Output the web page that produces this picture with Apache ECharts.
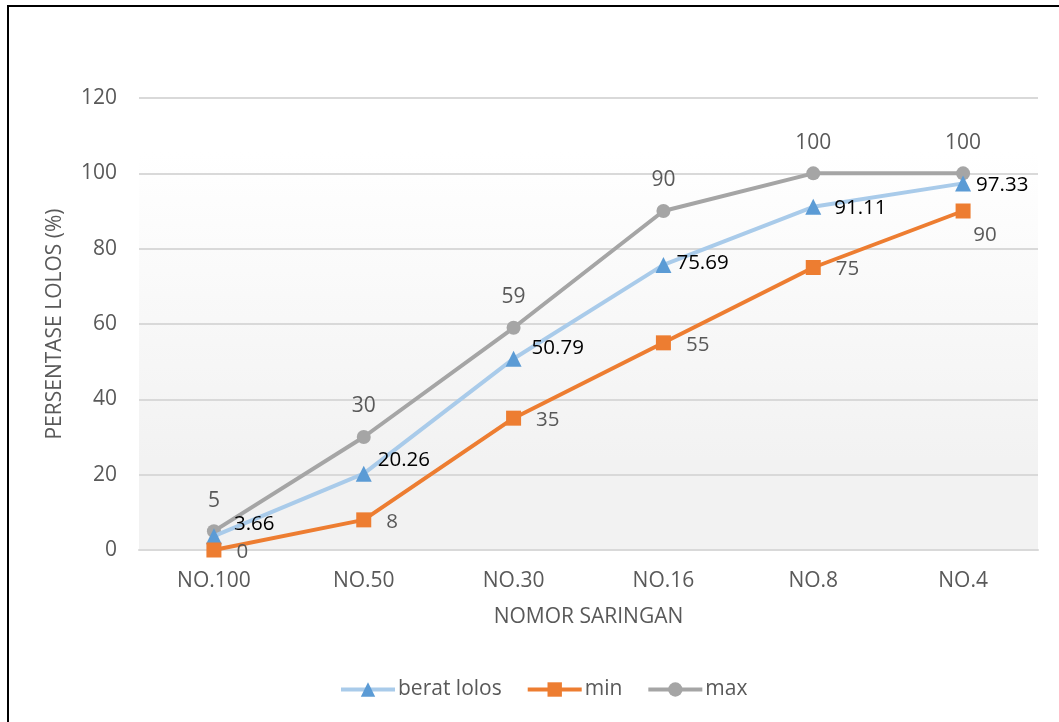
<!DOCTYPE html>
<html>
<head>
<meta charset="utf-8">
<script src="https://cdn.jsdelivr.net/npm/echarts@6/dist/echarts.min.js"></script>
<style>
  html, body { margin: 0; padding: 0; background: #ffffff; }
  #chart { width: 1059px; height: 722px; }
</style>
</head>
<body>
<div id="chart"></div>
<script>
// Sieve numbers along the x axis
const categories = ['NO.100', 'NO.50', 'NO.30', 'NO.16', 'NO.8', 'NO.4'];

// Percentage passing for each sieve
const beratLolos = [3.66, 20.26, 50.79, 75.69, 91.11, 97.33];
const minLimit = [0, 8, 35, 55, 75, 90];
const maxLimit = [5, 30, 59, 90, 100, 100];

const yTicks = { min: 0, max: 120, interval: 20 };

const FONT = '"Open Sans", "Liberation Sans", sans-serif';
const GREY_TEXT = '#595959';

// Label nudges for the measured curve where the lines crowd together
const beratOffsets = [[4, -12], [-2, -14], [2, -11], [-3, -2], [5, 1], [-3, 2]];

const chart = echarts.init(document.getElementById('chart'), null, { renderer: 'canvas' });

chart.setOption({
  animation: false,
  backgroundColor: '#ffffff',
  textStyle: { fontFamily: FONT },
  graphic: [{
    type: 'rect',
    shape: { x: 8, y: 6, width: 1200, height: 900 },
    style: { fill: 'none', stroke: '#000000', lineWidth: 2 },
    z: 100
  }],
  grid: {
    left: 139, right: 21, top: 98, bottom: 172,
    show: true,
    borderWidth: 0,
    backgroundColor: {
      type: 'linear', x: 0, y: 0, x2: 0, y2: 1,
      colorStops: [
        { offset: 0, color: '#ffffff' },
        { offset: 0.12, color: '#ffffff' },
        { offset: 0.8, color: '#f2f2f2' },
        { offset: 1, color: '#f2f2f2' }
      ]
    }
  },
  legend: {
    bottom: 17,
    left: 334,
    itemWidth: 54,
    itemHeight: 18,
    itemGap: 24,
    lineStyle: { width: 4 },
    textStyle: { fontSize: 21, color: GREY_TEXT, fontFamily: FONT, padding: [0, 0, 0, -2] },
    data: ['berat lolos', 'min', 'max']
  },
  xAxis: {
    type: 'category',
    data: categories,
    boundaryGap: true,
    name: 'NOMOR SARINGAN',
    nameLocation: 'middle',
    nameGap: 57,
    nameTextStyle: { fontSize: 21, color: GREY_TEXT, fontFamily: FONT },
    axisLine: { lineStyle: { color: '#d9d9d9', width: 2 } },
    axisTick: { show: false },
    axisLabel: { fontSize: 21, color: GREY_TEXT, margin: 21, fontFamily: FONT }
  },
  yAxis: {
    type: 'value',
    min: yTicks.min,
    max: yTicks.max,
    interval: yTicks.interval,
    name: 'PERSENTASE LOLOS (%)',
    nameLocation: 'middle',
    nameGap: 73,
    nameRotate: 90,
    nameTextStyle: { fontSize: 21, color: GREY_TEXT, fontFamily: FONT },
    axisLine: { show: false },
    axisTick: { show: false },
    axisLabel: { fontSize: 21, color: GREY_TEXT, margin: 22, fontFamily: FONT },
    splitLine: { lineStyle: { color: '#d9d9d9', width: 2 } }
  },
  series: [
    {
      name: 'max',
      type: 'line',
      data: maxLimit,
      symbol: 'circle',
      symbolSize: 14,
      z: 3,
      lineStyle: { color: '#a5a5a5', width: 4 },
      itemStyle: { color: '#a5a5a5' },
      label: {
        show: true, position: 'top', distance: 13,
        fontSize: 21, color: GREY_TEXT, fontFamily: FONT
      }
    },
    {
      name: 'berat lolos',
      type: 'line',
      data: beratLolos.map((v, i) => ({
        value: v,
        label: { offset: beratOffsets[i] }
      })),
      symbol: 'triangle',
      symbolSize: 16,
      z: 4,
      lineStyle: { color: '#a9cbea', width: 4 },
      itemStyle: { color: '#5b9bd5' },
      label: {
        show: true, position: 'right', distance: 8,
        fontSize: 20.5, color: '#000000', fontFamily: FONT
      }
    },
    {
      name: 'min',
      type: 'line',
      data: minLimit.map((v, i) => (i === minLimit.length - 1
        ? { value: v, label: { position: 'bottom', distance: 6, offset: [22, 0] } }
        : v)),
      symbol: 'rect',
      symbolSize: 15,
      z: 5,
      lineStyle: { color: '#ed7d31', width: 4 },
      itemStyle: { color: '#ed7d31' },
      label: {
        show: true, position: 'right', distance: 15, offset: [0, 2],
        fontSize: 20.5, color: GREY_TEXT, fontFamily: FONT
      }
    }
  ]
});
</script>
</body>
</html>
